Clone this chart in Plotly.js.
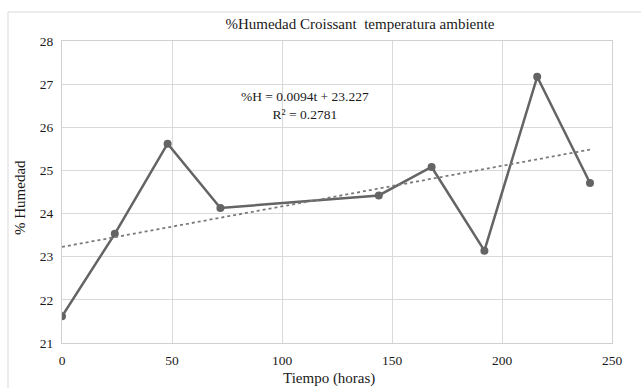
<!DOCTYPE html>
<html><head><meta charset="utf-8">
<script src="https://cdn.plot.ly/plotly-3.0.1.min.js"></script>
<style>html,body{margin:0;padding:0;background:#fff}#c{width:641px;height:388px}</style>
</head><body><div id="c"></div>
<script>
const tiempo = [0, 24, 48, 72, 144, 168, 192, 216, 240];
const humedad = [21.62, 23.53, 25.62, 24.13, 24.42, 25.08, 23.14, 27.17, 24.71];
const slope = 0.0094, intercept = 23.227;
const trendT = [0, 240];
const trendH = trendT.map(t => slope * t + intercept);
const xTicks = [0, 50, 100, 150, 200, 250];
const yTicks = [21, 22, 23, 24, 25, 26, 27, 28];
const font = 'Liberation Serif, Times New Roman, serif';
const data = [
  {x: tiempo, y: humedad, mode: 'lines+markers', type: 'scatter',
   line: {color: '#646464', width: 2.5}, marker: {color: '#646464', size: 8}, showlegend: false},
  {x: trendT, y: trendH, mode: 'lines', type: 'scatter',
   line: {color: '#7a7a7a', width: 1.8, dash: 'dot'}, showlegend: false}
];
const W = 641, H = 388, L = 62, R = 612, T = 41, B = 343;
const px = v => (v - L) / (R - L);
const py = v => (B - v) / (B - T);
const layout = {
  width: W, height: H,
  margin: {l: L, r: W - R, t: T, b: H - B},
  paper_bgcolor: '#fff', plot_bgcolor: '#fff',
  font: {family: font, color: '#1a1a1a', size: 12},
  title: {text: '%Humedad Croissant  temperatura ambiente', font: {family: font, size: 15, color: '#1a1a1a'},
          x: 360 / W, xref: 'container', xanchor: 'center', y: 1 - 24 / H, yanchor: 'middle'},
  xaxis: {range: [0, 250], tickvals: xTicks, ticktext: xTicks.map(String),
          showgrid: true, gridcolor: '#d9d9d9', gridwidth: 1, zeroline: false,
          showline: true, linecolor: '#d0d0d0', mirror: true, ticks: '', ticklabelstandoff: 5,
          tickfont: {family: font, size: 13.5, color: '#1a1a1a'}},
  yaxis: {range: [21, 28], tickvals: yTicks, ticktext: yTicks.map(String),
          showgrid: true, gridcolor: '#d9d9d9', gridwidth: 1, zeroline: false,
          showline: true, linecolor: '#d0d0d0', mirror: true, ticks: '', ticklabelstandoff: 5,
          tickfont: {family: font, size: 13.5, color: '#1a1a1a'}},
  shapes: [{type: 'rect', xref: 'paper', yref: 'paper', x0: px(8), x1: 1.2, y0: -0.3, y1: py(12),
            line: {color: '#d9d9d9', width: 1}, fillcolor: 'rgba(0,0,0,0)', layer: 'below'}],
  annotations: [
    {xref: 'paper', yref: 'paper', x: px(305), y: py(105), xanchor: 'center', yanchor: 'middle',
     text: '%H = 0.0094t + 23.227<br>R² = 0.2781', showarrow: false, align: 'center',
     font: {family: font, size: 13.5, color: '#1a1a1a'}},
    {xref: 'paper', yref: 'paper', x: px(329), y: py(378), xanchor: 'center', yanchor: 'middle',
     text: 'Tiempo (horas)', showarrow: false, font: {family: font, size: 15, color: '#1a1a1a'}},
    {xref: 'paper', yref: 'paper', x: px(20), y: py(198), xanchor: 'center', yanchor: 'middle',
     text: '% Humedad', textangle: -90, showarrow: false, font: {family: font, size: 15, color: '#1a1a1a'}}
  ]
};
Plotly.newPlot('c', data, layout, {displayModeBar: false, staticPlot: true});
</script></body></html>
